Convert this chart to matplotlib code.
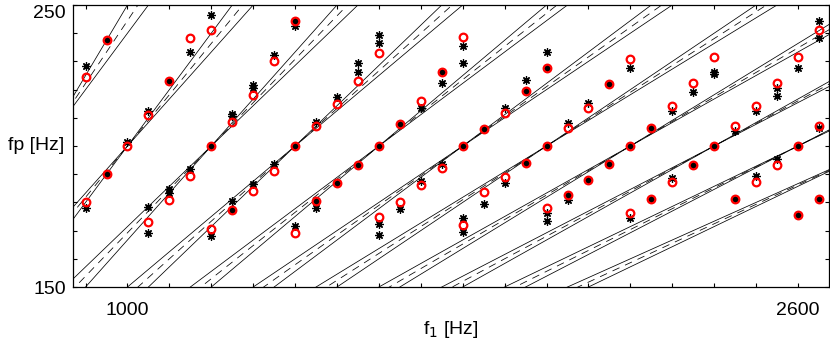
import numpy as np
import matplotlib
matplotlib.use("Agg")
import matplotlib.pyplot as plt

plt.rcParams['font.family'] = ['Liberation Sans', 'DejaVu Sans']

# ---------------- data ----------------
# red circles (f1, fp)
red_f1 = [900, 900, 950, 950, 1000, 1050, 1050, 1100, 1100, 1150, 1150,
          1200, 1200, 1200, 1250, 1250, 1300, 1300, 1350, 1350,
          1400, 1400, 1400, 1450, 1450, 1500, 1500, 1550, 1550,
          1600, 1600, 1600, 1650, 1650, 1700, 1700, 1750, 1750,
          1800, 1800, 1800, 1850, 1850, 1900, 1900, 1950, 1950,
          2000, 2000, 2000, 2050, 2050, 2100, 2100, 2150, 2150,
          2200, 2200, 2200, 2250, 2250, 2300, 2300, 2350, 2350,
          2400, 2400, 2450, 2450, 2500, 2500, 2550, 2550,
          2600, 2600, 2600, 2650, 2650, 2650]
red_fp = [224.4, 180.1, 237.7, 189.9, 199.9, 210.9, 173.2, 223.1, 180.9, 238.4, 189.3,
          241.2, 199.9, 170.5, 208.6, 177.4, 218.1, 184.2, 230.2, 191.2,
          244.2, 200.0, 169.0, 207.1, 180.6, 214.8, 186.8, 223.1, 193.1,
          232.9, 200.0, 175.0, 207.7, 180.1, 216.0, 186.1, 226.4, 192.3,
          238.5, 200.0, 171.9, 205.9, 183.6, 211.8, 189.1, 219.5, 194.1,
          227.6, 200.0, 178.1, 206.5, 182.6, 213.6, 187.8, 221.9, 193.7,
          230.8, 200.0, 176.2, 206.5, 181.3, 214.3, 187.3, 222.5, 193.2,
          231.6, 200.0, 207.1, 181.3, 214.2, 187.3, 222.5, 193.1,
          231.5, 200.0, 175.7, 241.2, 207.1, 181.3]

# black asterisks (f1, fp)
star_f1 = [900, 900, 950, 950, 1000, 1050, 1050, 1050, 1100, 1100, 1100, 1150, 1150,
           1200, 1200, 1200, 1250, 1250, 1250, 1250, 1300, 1300, 1300, 1350, 1350,
           1400, 1400, 1400, 1400, 1450, 1450, 1450, 1500, 1500, 1550, 1550, 1550,
           1600, 1600, 1600, 1600, 1600, 1650, 1650, 1700, 1700, 1750, 1750, 1750,
           1800, 1800, 1800, 1800, 1800, 1850, 1850, 1900, 1900, 1950, 1950, 1950,
           2000, 2000, 2000, 2000, 2000, 2050, 2050, 2050, 2100, 2100, 2150, 2150,
           2200, 2200, 2200, 2250, 2250, 2300, 2300, 2350, 2350,
           2400, 2400, 2400, 2450, 2450, 2500, 2500, 2550, 2550, 2550,
           2600, 2600, 2600, 2650, 2650, 2650, 2650]
star_fp = [228.4, 178.1, 237.7, 189.9, 201.4, 212.4, 178.4, 169.2, 223.1, 184.6, 183.4, 233.4, 191.7,
           246.4, 199.9, 168.2, 211.3, 210.5, 180.6, 177.4, 221.6, 220.7, 186.6, 232.3, 193.6,
           244.2, 242.4, 200.0, 171.6, 208.5, 180.6, 178.1, 217.4, 186.8, 229.4, 226.3, 193.1,
           239.3, 236.4, 200.0, 172.4, 168.4, 207.7, 177.7, 213.4, 187.6, 226.4, 222.3, 193.5,
           235.3, 229.4, 200.0, 174.3, 169.5, 205.9, 179.3, 213.6, 187.0, 223.3, 219.5, 194.1,
           233.4, 227.6, 200.0, 176.1, 173.3, 208.3, 182.6, 181.0, 215.4, 187.8, 221.9, 193.7,
           227.5, 200.0, 174.3, 206.5, 181.3, 212.3, 188.5, 219.3, 193.2,
           226.3, 225.4, 200.0, 205.2, 181.3, 212.3, 189.3, 220.4, 217.8, 195.5,
           227.5, 200.0, 175.7, 244.3, 238.4, 206.5, 181.3]

# harmonic bands: f1 = (n + a) * fp - a * fp_ref
harmonics = [4, 5, 6, 7, 8, 9, 10, 11, 12, 13, 14]
band_offsets = [0.0, 0.5, 1.0]
band_styles = ['solid', 'dashed', 'solid']
fp_ref = 200

x_ticks = list(range(900, 2700, 100))
x_labels = {1000: '1000', 2600: '2600'}
y_ticks = list(range(150, 251, 10))
y_labels = {150: '150', 250: '250'}

# ---------------- figure ----------------
fig = plt.figure(figsize=(8.30, 3.51), dpi=100)
ax = fig.add_axes([73/830, (351-287)/351, (829-73)/830, (287-5)/351])

fp_line = np.array([120.0, 280.0])
for n in harmonics:
    for a, st in zip(band_offsets, band_styles):
        f1_line = (n + a) * fp_line - a * fp_ref
        if st == 'dashed':
            ax.plot(f1_line, fp_line, color='black', lw=0.55, dashes=(10, 8))
        else:
            ax.plot(f1_line, fp_line, color='black', lw=0.55)

ax.plot(star_f1, star_fp, linestyle='none', marker=(8, 2, 0), ms=6,
        mew=0.9, color='black')
ax.plot(red_f1, red_fp, linestyle='none', marker='o', ms=5.5, mew=1.6,
        mfc='none', mec='red')

ax.set_xlim(870, 2674)
ax.set_ylim(150, 250)

ax.set_xticks(x_ticks)
ax.set_xticklabels([x_labels.get(t, '') for t in x_ticks])
ax.set_yticks(y_ticks)
ax.set_yticklabels([y_labels.get(t, '') for t in y_ticks])
ax.tick_params(direction='in', length=3, width=0.8, top=True, right=True,
               labelsize=14)
ax.tick_params(axis='x', pad=11)
ax.tick_params(axis='y', pad=5)
for lab in ax.get_yticklabels():
    if lab.get_text() == '250':
        lab.set_va('top')
for sp in ax.spines.values():
    sp.set_linewidth(0.9)

ax.set_xlabel('f$_1$ [Hz]', fontsize=14)
ax.xaxis.set_label_coords(0.5, -0.15)
ax.xaxis.label.set_va('center')
ax.set_ylabel('fp [Hz]', fontsize=14, rotation=0, ha='right', va='center')
ax.yaxis.set_label_coords(-0.011, 0.5)

fig.savefig('out.png', dpi=100)
